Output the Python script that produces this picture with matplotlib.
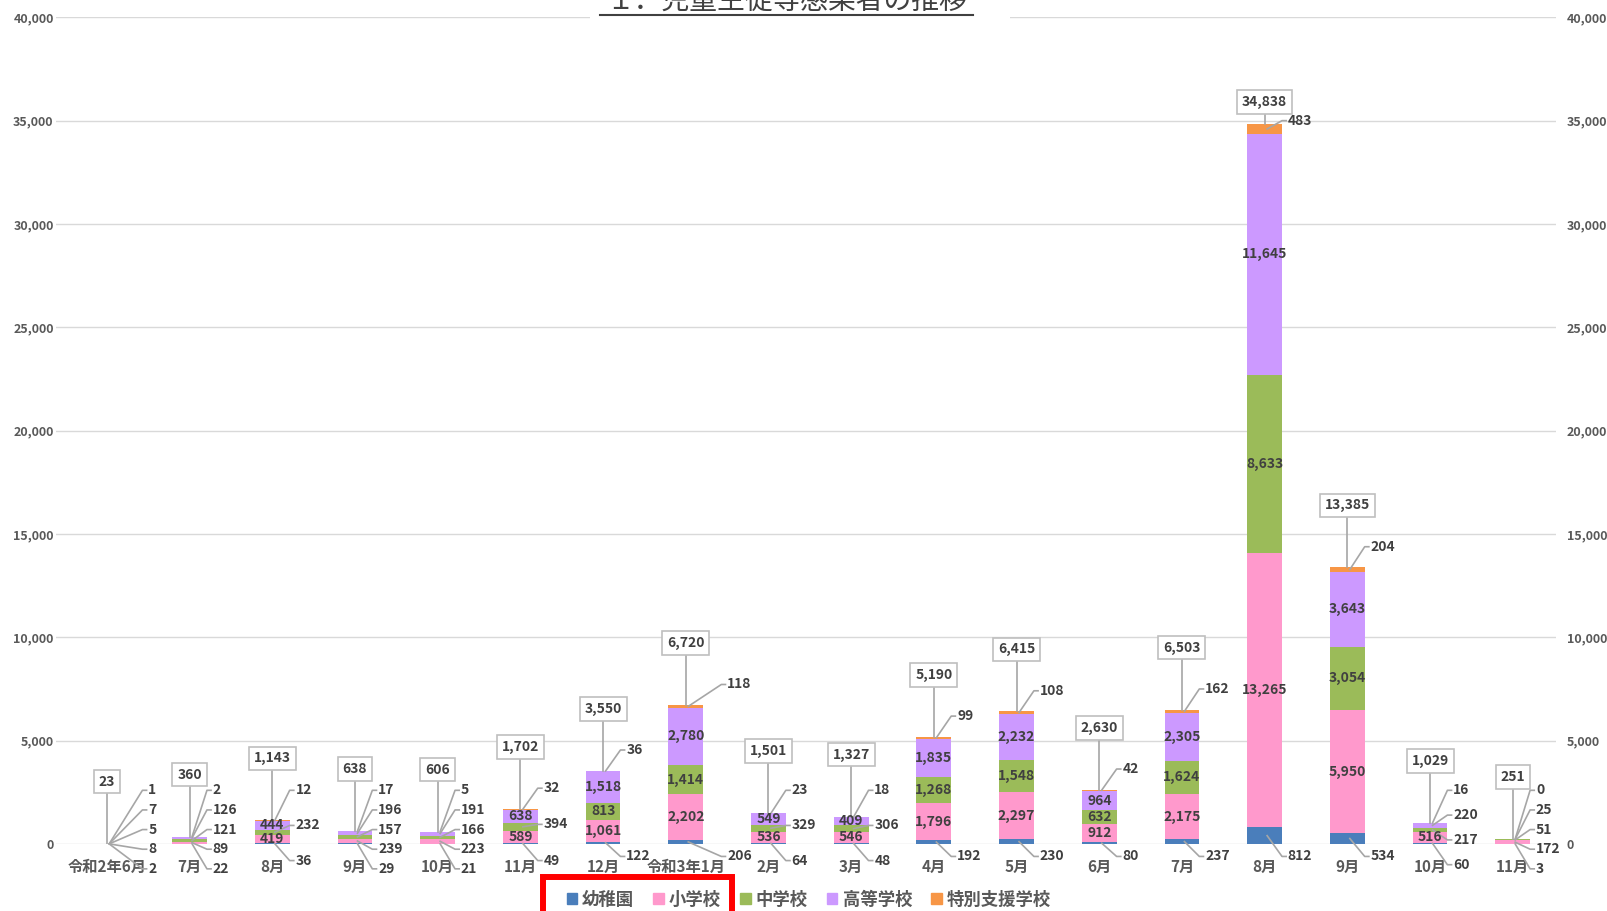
import numpy as np
import matplotlib.pyplot as plt
from matplotlib.patches import Patch, Rectangle
from matplotlib.lines import Line2D

plt.rcParams['font.family'] = ['Noto Sans CJK JP', 'DejaVu Sans']

months = ["令和2年6月", "7月", "8月", "9月", "10月", "11月", "12月", "令和3年1月",
          "2月", "3月", "4月", "5月", "6月", "7月", "8月", "9月", "10月", "11月"]
series_names = ["幼稚園", "小学校", "中学校", "高等学校", "特別支援学校"]
kinder = [2, 22, 36, 29, 21, 49, 122, 206, 64, 48, 192, 230, 80, 237, 812, 534, 60, 3]
elem = [8, 89, 419, 239, 223, 589, 1061, 2202, 536, 546, 1796, 2297, 912, 2175, 13265, 5950, 516, 172]
middle = [5, 121, 232, 157, 166, 394, 813, 1414, 329, 306, 1268, 1548, 632, 1624, 8633, 3054, 217, 51]
high = [7, 126, 444, 196, 191, 638, 1518, 2780, 549, 409, 1835, 2232, 964, 2305, 11645, 3643, 220, 25]
special = [1, 2, 12, 17, 5, 32, 36, 118, 23, 18, 99, 108, 42, 162, 483, 204, 16, 0]

colors = ["#4A7EBB", "#FF99CC", "#9BBB59", "#CC99FF", "#F79646"]
TXT = "#404040"
LEAD = "#A6A6A6"

data = np.array([kinder, elem, middle, high, special])
totals = data.sum(axis=0)
x = np.arange(len(months))
W = 0.42

fig = plt.figure(figsize=(16.08, 9.11), dpi=100)
ax = fig.add_axes([0.0351, 0.0735, 0.9324, 0.9075])

bottom = np.zeros(len(months))
for vals, col in zip(data, colors):
    ax.bar(x, vals, W, bottom=bottom, color=col, zorder=3)
    bottom += vals

ax.set_xlim(-0.61, 17.52)
ax.set_ylim(0, 40000)
ticks = np.arange(0, 40001, 5000)
ax.set_yticks(ticks)
ax.set_yticklabels([f"{t:,}" for t in ticks])
ax.grid(axis="y", color="#D9D9D9", lw=1, zorder=0)
ax.set_xticks(x)
ax.set_xticklabels(months, fontweight="bold")
for s in ax.spines.values():
    s.set_visible(False)
ax.tick_params(axis="x", length=0, pad=11, labelsize=11, labelcolor="#595959")
ax.tick_params(axis="y", length=0, pad=2, labelsize=9, labelcolor="#595959")
for t in ax.get_yticklabels():
    t.set_fontweight("bold")

ax2 = ax.twinx()
ax2.set_ylim(0, 40000)
ax2.set_yticks(ticks)
ax2.set_yticklabels([f"{t:,}" for t in ticks], fontweight="bold")
for s in ax2.spines.values():
    s.set_visible(False)
ax2.tick_params(axis="y", length=0, pad=8, labelsize=9, labelcolor="#595959")

# data labels: big segments inside, small ones outside with leader lines
for i in range(len(months)):
    top = totals[i]
    cum = np.concatenate([[0], np.cumsum(data[:, i])])
    mids = (cum[:-1] + cum[1:]) / 2
    outside = [0]
    for k in (1, 2, 3):
        if data[k, i] >= 400:
            ax.text(x[i], mids[k], f"{data[k, i]:,}", ha="center", va="center",
                    fontsize=10, fontweight="bold", color=TXT, zorder=5)
        else:
            outside.append(k)
    outside.append(4)
    outside = outside[::-1]  # top to bottom
    n = len(outside)
    y_top = min(top + max(1000, 2600 - top), 35000)
    y_bot = -600 - 200 * (n - 2)
    ys = np.linspace(y_top, y_bot, n)
    lx = x[i] + (0.5 if len(months[i]) > 3 else 0.28)
    for k, ly in zip(outside, ys):
        ax.text(lx, ly, f"{data[k, i]:,}", ha="left", va="center",
                fontsize=10, fontweight="bold", color=TXT, zorder=5, clip_on=False)
        ax.add_line(Line2D([x[i] + 0.03, lx - 0.07, lx - 0.02], [mids[k], ly, ly],
                           color=LEAD, lw=1.2, zorder=4, clip_on=False))
    # total box
    by = min(top + 3000, 35900)
    ax.add_line(Line2D([x[i], x[i]], [top, by], color=LEAD, lw=1.2, zorder=4))
    ax.text(x[i], by, f"{top:,}", ha="center", va="center", fontsize=10,
            fontweight="bold", color=TXT, zorder=6,
            bbox=dict(boxstyle="square,pad=0.35", fc="white", ec="#BFBFBF", lw=1.2))

# title (partly cut at the top)
fig.patches.append(Rectangle((590 / 1608, 1 - 22 / 911), 420 / 1608, 22 / 911,
                             transform=fig.transFigure, fc="white", ec="none", zorder=2))
fig.text(787 / 1608, 1 - 2 / 911, "１．児童生徒等感染者の推移", ha="center", va="center",
         fontsize=20, color=TXT, zorder=3)
fig.lines.append(Line2D([600 / 1608, 973 / 1608], [1 - 15 / 911, 1 - 15 / 911],
                        transform=fig.transFigure, color=TXT, lw=1.5, zorder=3))

handles = [Patch(color=c, label=n) for c, n in zip(colors, series_names)]
fig.legend(handles=handles, loc="center", bbox_to_anchor=(0.503, 1 - 900 / 911),
           ncol=5, frameon=False, handlelength=0.6, handleheight=0.6,
           handletextpad=0.3, columnspacing=1.1, labelcolor="#595959",
           prop={"weight": "bold", "size": 12.5})

# red highlight box
fig.patches.append(Rectangle((543 / 1608, -0.05), 189 / 1608, 0.05 + (911 - 877) / 911,
                             transform=fig.transFigure, fc="none", ec="#FF0000",
                             lw=4.3, zorder=4))

fig.savefig("out.png", dpi=100)
